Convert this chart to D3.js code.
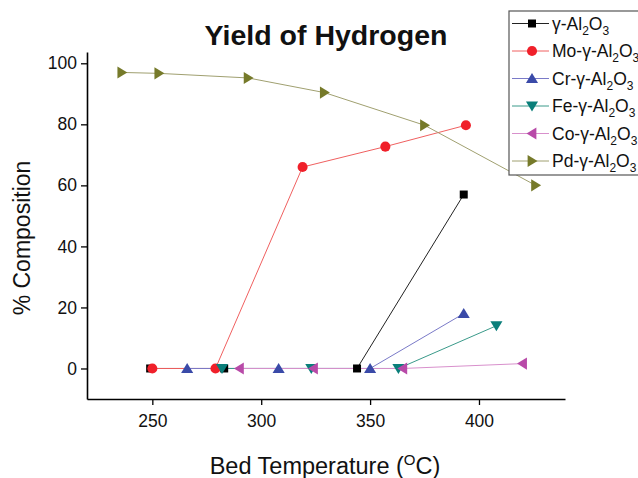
<!DOCTYPE html>
<html><head><meta charset="utf-8">
<script src="https://cdn.jsdelivr.net/npm/d3@7"></script>
<style>body{margin:0;background:#fff}svg{display:block;font-family:"Liberation Sans",Arial,sans-serif}</style>
</head><body>
<svg id="c" width="638" height="478"></svg>
<script>
const seriesNames = ["γ-Al2O3","Mo-γ-Al2O3","Cr-γ-Al2O3","Fe-γ-Al2O3","Co-γ-Al2O3","Pd-γ-Al2O3"];
const alTemp = [249,283,344,393];
const alVal  = [0,0,0,57];
const moTemp = [250,279,319,357,394];
const moVal  = [0,0,66,72.7,79.7];
const crTemp = [266,308,350,393];
const crVal  = [0,0,0,18];
const feTemp = [282,323,363,408];
const feVal  = [0,0,0,14];
const coTemp = [290,324,365,420];
const coVal  = [0,0,0,1.6];
const pdTemp = [236,253,294,329,375,426];
const pdVal  = [97,96.7,95.2,90.4,79.7,60];
const xTicks = [250,300,350,400];
const yTicks = [0,20,40,60,80,100];

const styles = [
  {marker:"square", fill:"#000000", line:"#222222"},
  {marker:"circle", fill:"#f0202a", line:"#f06060"},
  {marker:"up", fill:"#3a4aa8", line:"#7a7ac8"},
  {marker:"down", fill:"#0a7f7a", line:"#3a9a8a"},
  {marker:"left", fill:"#b84aa8", line:"#d890cc"},
  {marker:"right", fill:"#767a2a", line:"#a0a070"}
];
const data = [
  alTemp.map((t,i)=>[t,alVal[i]]),
  moTemp.map((t,i)=>[t,moVal[i]]),
  crTemp.map((t,i)=>[t,crVal[i]]),
  feTemp.map((t,i)=>[t,feVal[i]]),
  coTemp.map((t,i)=>[t,coVal[i]]),
  pdTemp.map((t,i)=>[t,pdVal[i]])
];

const svg = d3.select("#c");
const L=87, R=565, T=52, B=399;
const x = d3.scaleLinear().domain([220,439.5]).range([L,R]);
const y = d3.scaleLinear().domain([-10,103.7]).range([B,T]);

function markerPath(type){
  const s=5.5;
  switch(type){
    case "square": return `M${-4},${-4}h8v8h-8z`;
    case "circle": return d3.symbol(d3.symbolCircle, 80)();
    case "up": return `M0,${-s}L${s*1.1},${s*0.8}L${-s*1.1},${s*0.8}Z`;
    case "down": return `M0,${s}L${s*1.1},${-s*0.8}L${-s*1.1},${-s*0.8}Z`;
    case "left": return `M${-s},0L${s*0.8},${-s*1.1}L${s*0.8},${s*1.1}Z`;
    case "right": return `M${s},0L${-s*0.8},${-s*1.1}L${-s*0.8},${s*1.1}Z`;
  }
}

// axes
const xAxis = svg.append("g").attr("transform",`translate(0,${B})`)
  .call(d3.axisBottom(x).tickValues(xTicks).tickSize(6).tickPadding(4).tickSizeOuter(0));
const yAxis = svg.append("g").attr("transform",`translate(${L},0)`)
  .call(d3.axisLeft(y).tickValues(yTicks).tickSize(6).tickPadding(4).tickSizeOuter(0));
[xAxis,yAxis].forEach(a=>{
  a.select(".domain").attr("stroke","#000").attr("stroke-width",1.6);
  a.selectAll(".tick line").attr("stroke","#000").attr("stroke-width",1.3);
  a.selectAll(".tick text").attr("font-size",17.5).attr("fill","#111").attr("font-family","Liberation Sans, Arial, sans-serif");
});
xAxis.selectAll(".tick text").attr("dy","1.05em");

// lines & markers
const line = d3.line().x(d=>x(d[0])).y(d=>y(d[1]));
data.forEach((ser,i)=>{
  svg.append("path").attr("d",line(ser)).attr("fill","none")
    .attr("stroke",styles[i].line).attr("stroke-width",1);
});
data.forEach((ser,i)=>{
  svg.append("g").selectAll("path").data(ser).join("path")
    .attr("d",markerPath(styles[i].marker))
    .attr("transform",d=>`translate(${x(d[0])},${y(d[1])})`)
    .attr("fill",styles[i].fill);
});

// title
svg.append("text").attr("x",326).attr("y",45).attr("text-anchor","middle")
  .attr("font-size",28.5).attr("font-weight","bold").attr("fill","#111").text("Yield of Hydrogen");

// axis titles
const xt = svg.append("text").attr("x",325).attr("y",474).attr("text-anchor","middle")
  .attr("font-size",23.5).attr("fill","#111");
xt.append("tspan").text("Bed Temperature (");
xt.append("tspan").attr("font-size",15).attr("dy",-9).text("O");
xt.append("tspan").attr("dy",9).text("C)");
svg.append("text").attr("transform","translate(30,238) rotate(-90)").attr("text-anchor","middle")
  .attr("font-size",23).attr("fill","#111").text("% Composition");

// legend
const lg = svg.append("g");
lg.append("rect").attr("x",509).attr("y",11).attr("width",140).attr("height",164)
  .attr("fill","#fff").attr("stroke","#555").attr("stroke-width",1.2);
seriesNames.forEach((name,i)=>{
  const yy = 23.5 + i*27.5;
  lg.append("line").attr("x1",512).attr("x2",549).attr("y1",yy).attr("y2",yy)
    .attr("stroke",styles[i].line).attr("stroke-width",1);
  lg.append("path").attr("d",markerPath(styles[i].marker))
    .attr("transform",`translate(532,${yy})`).attr("fill",styles[i].fill);
  const parts = name.split("Al2O3");
  const t = lg.append("text").attr("x",552).attr("y",yy+6).attr("font-size",17.5).attr("fill","#111");
  t.append("tspan").text(parts[0]+"Al");
  t.append("tspan").attr("font-size",12).attr("dy",5).text("2");
  t.append("tspan").attr("dy",-5).text("O");
  t.append("tspan").attr("font-size",12).attr("dy",5).text("3");
});
</script>
</body></html>
